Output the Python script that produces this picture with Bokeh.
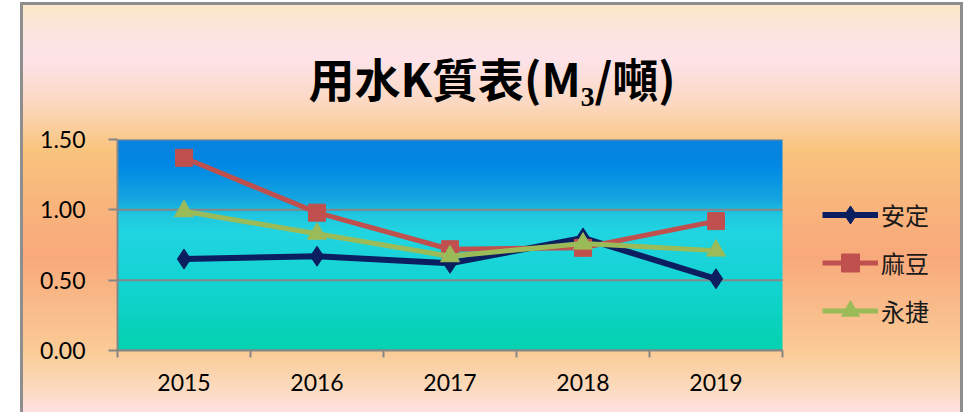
import numpy as np
from bokeh.plotting import figure
from bokeh.models import (Range1d, FixedTicker, NumeralTickFormatter,
                          Legend, LegendItem)
from bokeh.embed import file_html
from bokeh.resources import INLINE

# ---- data ----
years = ["2015", "2016", "2017", "2018", "2019"]
anding = [0.65, 0.67, 0.62, 0.80, 0.51]
madou = [1.37, 0.98, 0.72, 0.73, 0.92]
yongjie = [0.99, 0.83, 0.67, 0.76, 0.71]
series_names = ["安定", "麻豆", "永捷"]
y_ticks = [0.0, 0.5, 1.0, 1.5]
title_text = "用水K質表(M₃/噸)"

# ---- styles ----
colors = ["#0B1F60", "#C0504D", "#9BBB59"]
markers = ["diamond", "square", "triangle"]
marker_sizes = [20, 17, 19]
line_widths = [6, 5, 5]
tick_font = "Lato"
cjk_font = "Noto Sans CJK TC"
grid_color = "#868686"

W, H = 943, 410
left, right, top, bottom = 97, 8, 137, 62
plot_w = 665                      # width of the category area in px
frame_w = W - left - right
n = len(years)
xs = [i + 0.5 for i in range(n)]

p = figure(width=W, height=H, output_backend="svg", toolbar_location=None,
           x_range=Range1d(0, n * frame_w / plot_w), y_range=Range1d(0, 1.5),
           min_border_left=left, min_border_right=right,
           min_border_top=top, min_border_bottom=bottom)
p.border_fill_color = None
p.background_fill_color = None
p.outline_line_color = None

p.styles = {
    "margin-left": "20px",
    "margin-top": "2px",
    "background": "linear-gradient(to bottom, #FBE7C6 0%, #FCE4E0 8%, #FDE3E8 14%, "
                  "#FBD9C4 24%, #F9C47E 36%, #F9B47C 50%, #F8A97B 62%, #F9BC8A 75%, "
                  "#FACB96 85%, #FBD8B8 93%, #FDE1E1 100%)",
    "box-shadow": "inset 3px 3px 0 #8E8E8E, inset -3px 0 0 #8E8E8E",
}

# title
p.title.text = title_text
p.title.align = "left"
p.title.vertical_align = "top"
p.title.offset = 191
p.title.standoff = 55
p.title.text_font = cjk_font
p.title.text_font_size = "46px"
p.title.text_font_style = "bold"
p.title.text_color = "#000000"

# plot-area gradient (style only)
nrows = 211
fr = np.linspace(0, 1, nrows)
stops = [0.0, 0.33, 0.57, 0.64, 0.71, 0.88, 1.0]
rs = [4, 20, 34, 32, 22, 0, 10]
gs = [210, 212, 212, 200, 168, 136, 130]
bs = [176, 212, 226, 224, 224, 228, 224]
r = np.interp(fr, stops, rs).astype(np.uint32)
g = np.interp(fr, stops, gs).astype(np.uint32)
b = np.interp(fr, stops, bs).astype(np.uint32)
img = (255 << 24) | (b << 16) | (g << 8) | r
img = img.reshape(nrows, 1).astype(np.uint32)
p.image_rgba(image=[img], x=0, y=0, dw=n, dh=1.5, level="image")

# horizontal gridlines over the category area only
p.segment(x0=[0] * len(y_ticks), x1=[n] * len(y_ticks), y0=y_ticks, y1=y_ticks,
          line_color=grid_color, line_width=2)

# axes
p.xaxis.bounds = (0, n)
p.xaxis.ticker = FixedTicker(ticks=xs, minor_ticks=list(range(n + 1)))
p.xaxis.major_label_overrides = {x: y for x, y in zip(xs, years)}
p.xaxis.major_tick_line_color = None
p.xaxis.major_tick_out = 0
p.xaxis.major_tick_in = 0
p.xaxis.minor_tick_line_color = grid_color
p.xaxis.minor_tick_line_width = 2
p.xaxis.minor_tick_out = 7
p.xaxis.minor_tick_in = 0
p.xaxis.axis_line_color = grid_color
p.xaxis.axis_line_width = 2
p.xaxis.major_label_standoff = 16
p.xaxis.major_label_text_font = tick_font
p.xaxis.major_label_text_font_size = "23px"
p.xaxis.major_label_text_color = "#000000"

p.yaxis.ticker = FixedTicker(ticks=y_ticks)
p.yaxis.formatter = NumeralTickFormatter(format="0.00")
p.yaxis.minor_tick_line_color = None
p.yaxis.major_tick_line_color = grid_color
p.yaxis.major_tick_line_width = 2
p.yaxis.major_tick_out = 9
p.yaxis.major_tick_in = 0
p.yaxis.axis_line_color = grid_color
p.yaxis.axis_line_width = 2
p.yaxis.major_label_standoff = 23
p.yaxis.major_label_text_font = tick_font
p.yaxis.major_label_text_font_size = "23px"
p.yaxis.major_label_text_color = "#000000"

p.xgrid.grid_line_color = None
p.ygrid.grid_line_color = None

# series
items = []
for name, vals, c, m, ms, lw in zip(series_names, [anding, madou, yongjie],
                                    colors, markers, marker_sizes, line_widths):
    ln = p.line(xs, vals, line_color=c, line_width=lw)
    sc = p.scatter(xs, vals, marker=m, size=ms, fill_color=c, line_color=c)
    items.append(LegendItem(label=name, renderers=[ln, sc]))

legend = Legend(items=items, location=(705, 17), orientation="vertical")
legend.glyph_width = 56
legend.glyph_height = 45
legend.label_height = 45
legend.spacing = 3
legend.padding = 0
legend.margin = 0
legend.label_standoff = 3
legend.background_fill_alpha = 0
legend.border_line_color = None
legend.label_text_font = cjk_font
legend.label_text_font_size = "24px"
legend.label_text_color = "#1A1A1A"
legend.label_text_baseline = "middle"
p.add_layout(legend)

open("out.html", "w").write(file_html(p, INLINE))
